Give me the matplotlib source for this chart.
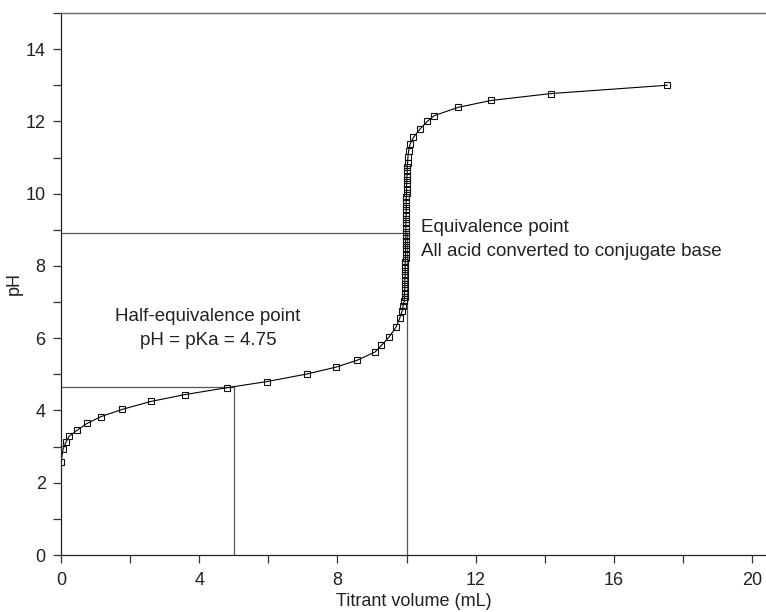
import matplotlib
matplotlib.use('Agg')
import matplotlib.pyplot as plt
from matplotlib.ticker import MultipleLocator

plt.rcParams['font.family'] = ['Liberation Sans', 'DejaVu Sans']

volume = [0.00, 0.06, 0.14, 0.23, 0.46, 0.75, 1.16, 1.77, 2.60, 3.59, 4.80,
          5.96, 7.12, 7.96, 8.57, 9.09, 9.27, 9.49, 9.69, 9.80, 9.87, 9.90,
          9.93, 9.94, 9.94, 9.95, 9.95, 9.95, 9.96, 9.96, 9.96, 9.96, 9.97,
          9.97, 9.97, 9.97, 9.97, 9.98, 9.98, 9.98, 9.98, 9.98, 9.99, 9.99,
          9.99, 9.99, 9.99, 10.00, 10.00, 10.00, 10.01, 10.01, 10.02, 10.02,
          10.03, 10.04, 10.06, 10.10, 10.20, 10.39, 10.60, 10.80, 11.50,
          12.45, 14.18, 17.54]
ph = [2.57, 2.93, 3.12, 3.28, 3.45, 3.64, 3.83, 4.03, 4.25, 4.44, 4.63,
      4.80, 5.01, 5.20, 5.39, 5.62, 5.80, 6.03, 6.30, 6.55, 6.75, 6.90,
      7.02, 7.14, 7.26, 7.38, 7.50, 7.62, 7.74, 7.86, 7.98, 8.10, 8.22,
      8.34, 8.46, 8.58, 8.70, 8.82, 8.94, 9.06, 9.18, 9.30, 9.42, 9.54,
      9.66, 9.78, 9.90, 10.02, 10.14, 10.26, 10.38, 10.50, 10.62, 10.74,
      10.86, 11.02, 11.18, 11.37, 11.56, 11.79, 12.00, 12.16, 12.39,
      12.58, 12.77, 13.00]

half_eq_vol, half_eq_ph = 5.0, 4.66
eq_vol, eq_ph = 10.0, 8.91

fig = plt.figure(figsize=(7.66, 6.12), dpi=100)
ax = fig.add_axes([0.0796, 0.0931, 0.9204, 0.8857])

ref_color = '#555555'
ax.plot([0, half_eq_vol], [half_eq_ph, half_eq_ph], color=ref_color, lw=0.9)
ax.plot([half_eq_vol, half_eq_vol], [0, half_eq_ph], color=ref_color, lw=0.9)
ax.plot([0, eq_vol], [eq_ph, eq_ph], color=ref_color, lw=0.9)
ax.plot([eq_vol, eq_vol], [0, eq_ph], color=ref_color, lw=0.9)

ax.plot(volume, ph, color='black', lw=0.8, marker='s', markersize=4.5,
        markerfacecolor='none', markeredgecolor='#111111', markeredgewidth=0.8)

ax.text(4.25, 6.27, 'Half-equivalence point\npH = pKa = 4.75', ha='center',
        va='center', fontsize=13.5, color='#222222', linespacing=1.6)
ax.text(10.42, 8.73, 'Equivalence point\nAll acid converted to conjugate base',
        ha='left', va='center', fontsize=13.5, color='#222222', linespacing=1.5)

ax.set_xlim(0, 20.4)
ax.set_ylim(0, 15)
ax.xaxis.set_major_locator(MultipleLocator(4))
ax.xaxis.set_minor_locator(MultipleLocator(2))
ax.yaxis.set_major_locator(MultipleLocator(2))
ax.yaxis.set_minor_locator(MultipleLocator(1))
ax.tick_params(which='both', direction='out', length=6, width=0.9,
               color='#333333', labelsize=13, labelcolor='#222222')
ax.tick_params(axis='y', pad=5)
ax.tick_params(axis='x', pad=6)

for side in ['left', 'bottom']:
    ax.spines[side].set_color('#222222')
    ax.spines[side].set_linewidth(0.9)
ax.spines['top'].set_color('#666666')
ax.spines['top'].set_linewidth(1.0)
ax.spines['right'].set_visible(False)

ax.set_xlabel('Titrant volume (mL)', fontsize=13, color='#222222', labelpad=3)
ax.set_ylabel('pH', fontsize=13, color='#222222', labelpad=2)

fig.savefig('out.png', dpi=100)
